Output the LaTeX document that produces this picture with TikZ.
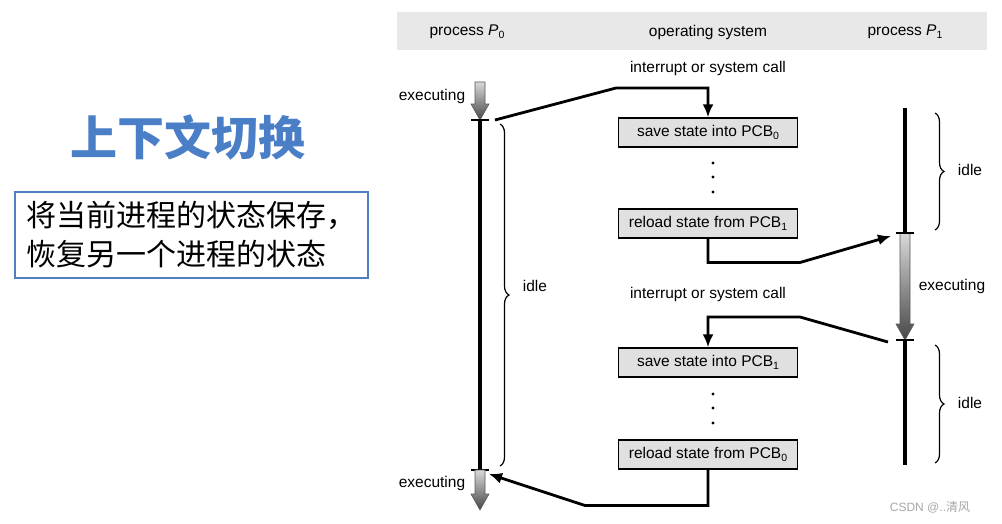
\documentclass[tikz,border=0pt]{standalone}
\usepackage{fontspec}
\setmainfont{Liberation Sans}
\newfontfamily\cjk{Noto Sans CJK SC}
\usetikzlibrary{arrows.meta,positioning,decorations.pathreplacing}
\definecolor{titleblue}{HTML}{4A7EC6}
\definecolor{boxblue}{HTML}{5080BE}
\definecolor{headgray}{HTML}{E8E8E8}
\definecolor{boxgray}{HTML}{E0E0E0}
\newcommand\lowidx[1]{\raisebox{-0.4ex}{\fontsize{10.5}{10.5}\selectfont #1}}
% gradient arrow: x, y top, y tip
\newcommand\execarrow[3]{%
  \shade[top color=black!15, bottom color=black!72, draw=black!65, line width=0.6pt]
    (#1-5,#2) -- (#1+5,#2) -- (#1+5,#3-16) -- (#1+9,#3-16) -- (#1,#3)
    -- (#1-9,#3-16) -- (#1-5,#3-16) -- cycle;}

\begin{document}
\begin{tikzpicture}[
    x=1pt, y=-1pt,
    every node/.style={font=\fontsize{15.5}{18}\selectfont, inner sep=0pt},
    statebox/.style={draw, fill=boxgray, line width=1.3pt, minimum width=179pt, minimum height=29pt},
    flow/.style={line width=2.8pt, -{Latex[length=13pt,width=11pt]}},
    timeline/.style={line width=4.5pt},
    tick/.style={line width=1.4pt},
    idlebrace/.style={line width=1.2pt, decorate, decoration={brace, amplitude=9pt}},
]
\useasboundingbox (0,0) rectangle (1002,523);

% Left: title and note
\node[font=\cjk\bfseries\fontsize{47}{47}\selectfont, text=titleblue] (title) at (188,137) {上下文切换};
\node[draw=boxblue, line width=2.5pt, minimum width=353pt, minimum height=86pt,
      align=left, font=\cjk\fontsize{30}{39}\selectfont] (note) at (191.5,235)
      {将当前进程的状态保存，\\恢复另一个进程的状态};

% Header
\fill[headgray] (397,12) rectangle (987,50);
\node (hp0) at (467,32) {process \textit{P}\lowidx{0}};
\node (hos) at (708,32) {operating system};
\node (hp1) at (905,32) {process \textit{P}\lowidx{1}};

% Operating system steps
\node[statebox] (save0) at (708,132.5) {save state into PCB\lowidx{0}};
\node[statebox] (load1) at (708,223.5) {reload state from PCB\lowidx{1}};
\node[statebox] (save1) at (708,362.5) {save state into PCB\lowidx{1}};
\node[statebox] (load0) at (708,454.5) {reload state from PCB\lowidx{0}};
\foreach \y in {163,177,192,394,408,423} {
    \fill (713,\y) circle (1.7pt);
}
\node (irq0) at (708,68) {interrupt or system call};
\node (irq1) at (708,294) {interrupt or system call};

% Process P0
\execarrow{480}{82}{120}
\draw[timeline] (480,120) -- (480,470);
\draw[tick] (471,120) -- (489,120);
\draw[tick] (471,470) -- (489,470);
\execarrow{480}{470}{510}
\node (ex0a) at (432,96) {executing};
\node (ex0b) at (432,483) {executing};
\draw[idlebrace] (500,124) -- (500,466);
\node (idle0) at (535,286) {idle};

% Process P1
\draw[timeline] (905,108) -- (905,233);
\execarrow{905}{233}{340}
\draw[timeline] (905,340) -- (905,465);
\draw[tick] (896,233) -- (914,233);
\draw[tick] (896,340) -- (914,340);
\node (ex1) at (952,286) {executing};
\draw[idlebrace] (935,113) -- (935,230);
\draw[idlebrace] (935,345) -- (935,463);
\node (idle1a) at (970,170) {idle};
\node (idle1b) at (970,403) {idle};

% Switches
\coordinate (p0out) at (495,120);
\coordinate (p1in) at (891,236);
\coordinate (p1out) at (888,342);
\coordinate (p0in) at (489,474);
\draw[flow] (p0out) -- (616,88) -| (save0);
\draw[flow] (load1) -- ++(0,39) -- ++(92,0) -- (p1in);
\draw[flow] (p1out) -- (800,317) -| (save1);
\draw[flow] (load0) -- ++(0,51) -- ++(-123,0) -- (p0in);

% Watermark
\node[text=black!35, font=\fontsize{12}{12}\selectfont] (mark) at (930,507) {CSDN @..{\cjk 清风}};
\end{tikzpicture}
\end{document}
